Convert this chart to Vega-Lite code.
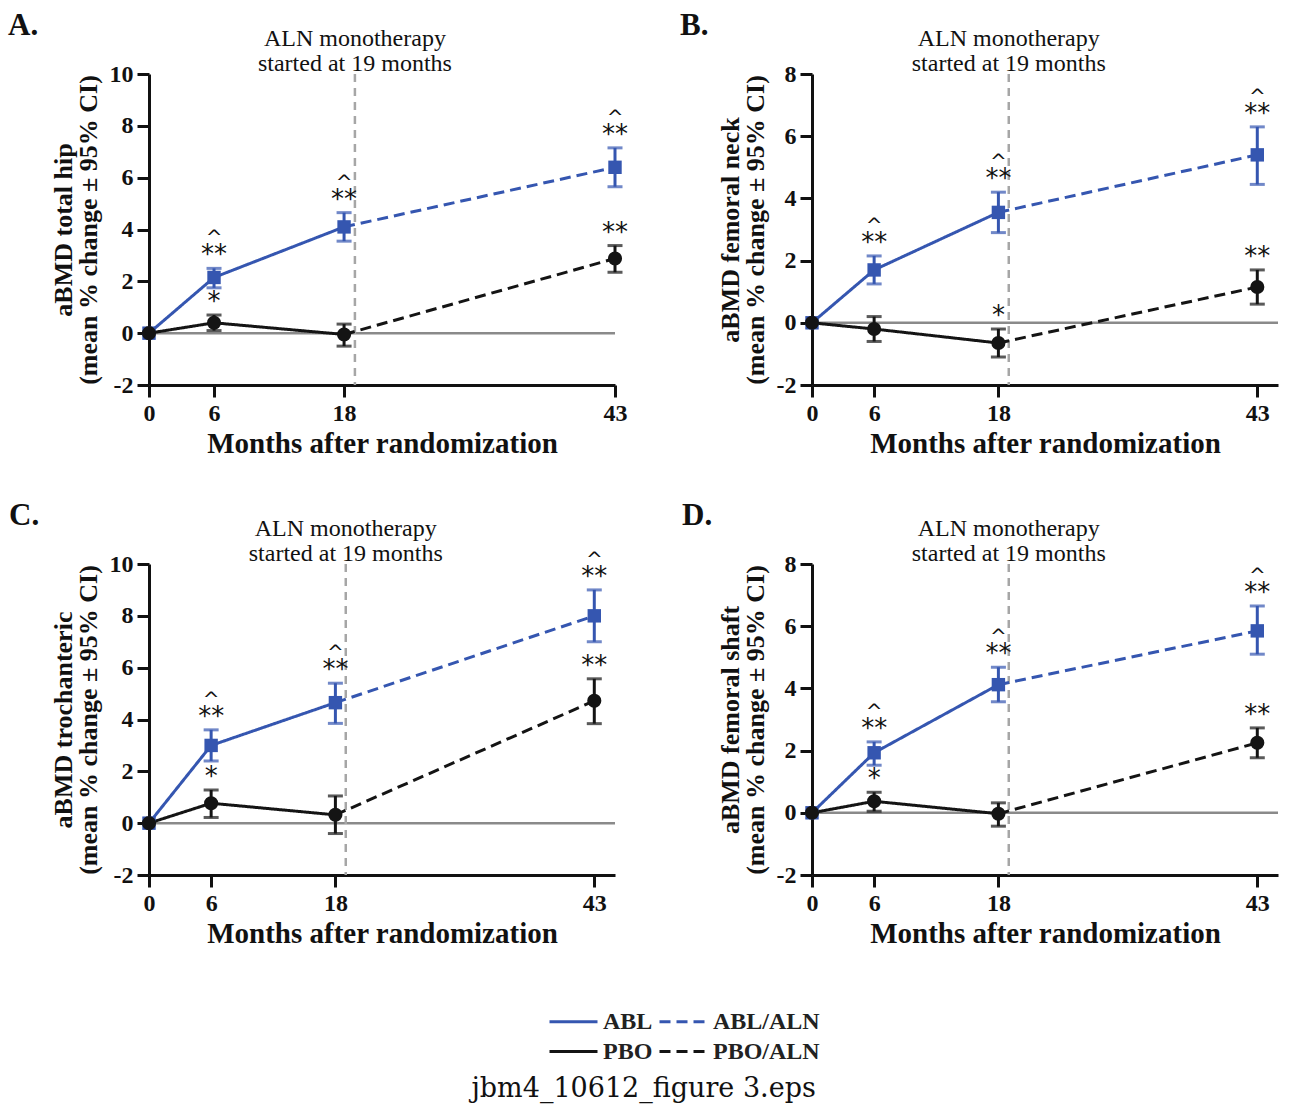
{
  "$schema": "https://vega.github.io/schema/vega-lite/v6.json",
  "padding": {"left": 8, "top": 10, "right": 5, "bottom": 8},
  "background": "white",
  "datasets": {
    "pts": [
      {"panel": "A", "group": "ABL", "month": 0, "mean": 0, "lo": 0, "hi": 0, "stars": "", "caret": ""},
      {"panel": "A", "group": "ABL", "month": 6, "mean": 2.15, "lo": 1.75, "hi": 2.5, "stars": "**", "caret": "^"},
      {"panel": "A", "group": "ABL", "month": 18, "mean": 4.1, "lo": 3.55, "hi": 4.65, "stars": "**", "caret": "^"},
      {"panel": "A", "group": "ABL", "month": 43, "mean": 6.4, "lo": 5.65, "hi": 7.15, "stars": "**", "caret": "^"},
      {"panel": "A", "group": "PBO", "month": 0, "mean": 0, "lo": 0, "hi": 0, "stars": "", "caret": ""},
      {"panel": "A", "group": "PBO", "month": 6, "mean": 0.4, "lo": 0.1, "hi": 0.7, "stars": "*", "caret": ""},
      {"panel": "A", "group": "PBO", "month": 18, "mean": -0.05, "lo": -0.5, "hi": 0.35, "stars": "", "caret": ""},
      {"panel": "A", "group": "PBO", "month": 43, "mean": 2.88, "lo": 2.35, "hi": 3.38, "stars": "**", "caret": ""},
      {"panel": "B", "group": "ABL", "month": 0, "mean": 0, "lo": 0, "hi": 0, "stars": "", "caret": ""},
      {"panel": "B", "group": "ABL", "month": 6, "mean": 1.7, "lo": 1.25, "hi": 2.15, "stars": "**", "caret": "^"},
      {"panel": "B", "group": "ABL", "month": 18, "mean": 3.55, "lo": 2.9, "hi": 4.2, "stars": "**", "caret": "^"},
      {"panel": "B", "group": "ABL", "month": 43, "mean": 5.4, "lo": 4.45, "hi": 6.3, "stars": "**", "caret": "^"},
      {"panel": "B", "group": "PBO", "month": 0, "mean": 0, "lo": 0, "hi": 0, "stars": "", "caret": ""},
      {"panel": "B", "group": "PBO", "month": 6, "mean": -0.2, "lo": -0.6, "hi": 0.2, "stars": "", "caret": ""},
      {"panel": "B", "group": "PBO", "month": 18, "mean": -0.65, "lo": -1.1, "hi": -0.2, "stars": "*", "caret": ""},
      {"panel": "B", "group": "PBO", "month": 43, "mean": 1.15, "lo": 0.6, "hi": 1.7, "stars": "**", "caret": ""},
      {"panel": "C", "group": "ABL", "month": 0, "mean": 0, "lo": 0, "hi": 0, "stars": "", "caret": ""},
      {"panel": "C", "group": "ABL", "month": 6, "mean": 3.0, "lo": 2.4, "hi": 3.6, "stars": "**", "caret": "^"},
      {"panel": "C", "group": "ABL", "month": 18, "mean": 4.65, "lo": 3.85, "hi": 5.4, "stars": "**", "caret": "^"},
      {"panel": "C", "group": "ABL", "month": 43, "mean": 8.0, "lo": 7.0, "hi": 9.0, "stars": "**", "caret": "^"},
      {"panel": "C", "group": "PBO", "month": 0, "mean": 0, "lo": 0, "hi": 0, "stars": "", "caret": ""},
      {"panel": "C", "group": "PBO", "month": 6, "mean": 0.77, "lo": 0.22, "hi": 1.28, "stars": "*", "caret": ""},
      {"panel": "C", "group": "PBO", "month": 18, "mean": 0.32, "lo": -0.4, "hi": 1.05, "stars": "", "caret": ""},
      {"panel": "C", "group": "PBO", "month": 43, "mean": 4.72, "lo": 3.84, "hi": 5.57, "stars": "**", "caret": ""},
      {"panel": "D", "group": "ABL", "month": 0, "mean": 0, "lo": 0, "hi": 0, "stars": "", "caret": ""},
      {"panel": "D", "group": "ABL", "month": 6, "mean": 1.93, "lo": 1.53, "hi": 2.28, "stars": "**", "caret": "^"},
      {"panel": "D", "group": "ABL", "month": 18, "mean": 4.12, "lo": 3.57, "hi": 4.68, "stars": "**", "caret": "^"},
      {"panel": "D", "group": "ABL", "month": 43, "mean": 5.85, "lo": 5.1, "hi": 6.65, "stars": "**", "caret": "^"},
      {"panel": "D", "group": "PBO", "month": 0, "mean": 0, "lo": 0, "hi": 0, "stars": "", "caret": ""},
      {"panel": "D", "group": "PBO", "month": 6, "mean": 0.37, "lo": 0.05, "hi": 0.66, "stars": "*", "caret": ""},
      {"panel": "D", "group": "PBO", "month": 18, "mean": -0.03, "lo": -0.43, "hi": 0.32, "stars": "", "caret": ""},
      {"panel": "D", "group": "PBO", "month": 43, "mean": 2.25, "lo": 1.77, "hi": 2.73, "stars": "**", "caret": ""}
    ],
    "lines": [
      {"panel": "A", "series": "ABL", "month": 0, "mean": 0},
      {"panel": "A", "series": "ABL", "month": 6, "mean": 2.15},
      {"panel": "A", "series": "ABL", "month": 18, "mean": 4.1},
      {"panel": "A", "series": "ABL/ALN", "month": 18, "mean": 4.1},
      {"panel": "A", "series": "ABL/ALN", "month": 43, "mean": 6.4},
      {"panel": "A", "series": "PBO", "month": 0, "mean": 0},
      {"panel": "A", "series": "PBO", "month": 6, "mean": 0.4},
      {"panel": "A", "series": "PBO", "month": 18, "mean": -0.05},
      {"panel": "A", "series": "PBO/ALN", "month": 18, "mean": -0.05},
      {"panel": "A", "series": "PBO/ALN", "month": 43, "mean": 2.88},
      {"panel": "B", "series": "ABL", "month": 0, "mean": 0},
      {"panel": "B", "series": "ABL", "month": 6, "mean": 1.7},
      {"panel": "B", "series": "ABL", "month": 18, "mean": 3.55},
      {"panel": "B", "series": "ABL/ALN", "month": 18, "mean": 3.55},
      {"panel": "B", "series": "ABL/ALN", "month": 43, "mean": 5.4},
      {"panel": "B", "series": "PBO", "month": 0, "mean": 0},
      {"panel": "B", "series": "PBO", "month": 6, "mean": -0.2},
      {"panel": "B", "series": "PBO", "month": 18, "mean": -0.65},
      {"panel": "B", "series": "PBO/ALN", "month": 18, "mean": -0.65},
      {"panel": "B", "series": "PBO/ALN", "month": 43, "mean": 1.15},
      {"panel": "C", "series": "ABL", "month": 0, "mean": 0},
      {"panel": "C", "series": "ABL", "month": 6, "mean": 3.0},
      {"panel": "C", "series": "ABL", "month": 18, "mean": 4.65},
      {"panel": "C", "series": "ABL/ALN", "month": 18, "mean": 4.65},
      {"panel": "C", "series": "ABL/ALN", "month": 43, "mean": 8.0},
      {"panel": "C", "series": "PBO", "month": 0, "mean": 0},
      {"panel": "C", "series": "PBO", "month": 6, "mean": 0.77},
      {"panel": "C", "series": "PBO", "month": 18, "mean": 0.32},
      {"panel": "C", "series": "PBO/ALN", "month": 18, "mean": 0.32},
      {"panel": "C", "series": "PBO/ALN", "month": 43, "mean": 4.72},
      {"panel": "D", "series": "ABL", "month": 0, "mean": 0},
      {"panel": "D", "series": "ABL", "month": 6, "mean": 1.93},
      {"panel": "D", "series": "ABL", "month": 18, "mean": 4.12},
      {"panel": "D", "series": "ABL/ALN", "month": 18, "mean": 4.12},
      {"panel": "D", "series": "ABL/ALN", "month": 43, "mean": 5.85},
      {"panel": "D", "series": "PBO", "month": 0, "mean": 0},
      {"panel": "D", "series": "PBO", "month": 6, "mean": 0.37},
      {"panel": "D", "series": "PBO", "month": 18, "mean": -0.03},
      {"panel": "D", "series": "PBO/ALN", "month": 18, "mean": -0.03},
      {"panel": "D", "series": "PBO/ALN", "month": 43, "mean": 2.25}
    ]
  },
  "title": {"text": "jbm4_10612_figure 3.eps", "orient": "bottom", "anchor": "middle", "font": "DejaVu Serif", "fontSize": 27, "fontWeight": "normal", "color": "#111111", "offset": 12},
  "columns": 2,
  "spacing": {"column": 52, "row": 42},
  "resolve": {"scale": {"color": "shared", "strokeDash": "shared"}, "legend": {"color": "shared", "strokeDash": "shared"}},
  "concat": [
    {
      "width": 466, "height": 311,
      "title": {"text": "A.", "anchor": "start", "frame": "group", "dx": -141, "offset": 0, "dy": 39, "baseline": "alphabetic", "font": "Liberation Serif", "fontWeight": "bold", "fontSize": 31, "color": "#111111"},
      "layer": [
        {"data": {"values": [{"ref": "zero"}]}, "mark": {"type": "rule", "color": "#8a8a8a", "strokeWidth": 2.5}, "encoding": {"y": {"datum": 0}}},
        {"data": {"values": [{"ref": "aln"}]}, "mark": {"type": "rule", "color": "#a6a6a6", "strokeWidth": 2.5, "strokeDash": [8, 6]}, "encoding": {"x": {"datum": 19}}},
        {"data": {"name": "lines"}, "transform": [{"filter": "datum.panel === 'A'"}],
         "mark": {"type": "line", "strokeWidth": 3},
         "encoding": {
           "x": {"field": "month", "type": "quantitative", "scale": {"domain": [0, 43], "nice": false, "zero": false}, "axis": {"values": [0, 6, 18, 43]}, "title": "Months after randomization"},
           "y": {"field": "mean", "type": "quantitative", "scale": {"domain": [-2, 10], "nice": false}, "axis": {"values": [-2, 0, 2, 4, 6, 8, 10], "labelExpr": "replace(datum.label, '−', '-')"}, "title": ["aBMD total hip", "(mean % change ± 95% CI)"]},
           "color": {"field": "series", "type": "nominal", "scale": {"domain": ["ABL", "ABL/ALN", "PBO", "PBO/ALN"], "range": ["#3556b0", "#3556b0", "#141414", "#141414"]},
             "legend": {"title": null, "orient": "none", "direction": "horizontal", "legendX": 399, "legendY": 934, "columns": 2, "symbolType": "M-1,0H3", "symbolSize": 576, "symbolStrokeWidth": 3, "labelFont": "Liberation Serif", "labelFontWeight": "bold", "labelFontSize": 24, "labelColor": "#222222", "columnPadding": 0, "rowPadding": 4, "labelOffset": 28}},
           "strokeDash": {"field": "series", "type": "nominal", "scale": {"domain": ["ABL", "ABL/ALN", "PBO", "PBO/ALN"], "range": [[1, 0], [11, 6], [1, 0], [11, 6]]},
             "legend": {"title": null, "orient": "none", "direction": "horizontal", "legendX": 399, "legendY": 934, "columns": 2, "symbolType": "M-1,0H3", "symbolSize": 576, "symbolStrokeWidth": 3, "labelFont": "Liberation Serif", "labelFontWeight": "bold", "labelFontSize": 24, "labelColor": "#222222", "columnPadding": 0, "rowPadding": 4, "labelOffset": 28}}
         }},
        {"data": {"name": "pts"}, "transform": [{"filter": "datum.panel === 'A' && datum.group === 'ABL' && datum.month > 0"}],
         "mark": {"type": "errorbar", "color": "#3556b0", "thickness": 3, "size": 15, "ticks": true},
         "encoding": {"x": {"field": "month", "type": "quantitative", "title": "Months after randomization"}, "y": {"field": "lo", "type": "quantitative", "title": ["aBMD total hip", "(mean % change ± 95% CI)"]}, "y2": {"field": "hi"}}},
        {"data": {"name": "pts"}, "transform": [{"filter": "datum.panel === 'A' && datum.group === 'ABL'"}],
         "mark": {"type": "square", "color": "#3556b0", "size": 180, "opacity": 1},
         "encoding": {"x": {"field": "month", "type": "quantitative"}, "y": {"field": "mean", "type": "quantitative"}}},
        {"data": {"name": "pts"}, "transform": [{"filter": "datum.panel === 'A' && datum.group === 'PBO' && datum.month > 0"}],
         "mark": {"type": "errorbar", "color": "#141414", "thickness": 3, "size": 15, "ticks": true},
         "encoding": {"x": {"field": "month", "type": "quantitative", "title": "Months after randomization"}, "y": {"field": "lo", "type": "quantitative", "title": ["aBMD total hip", "(mean % change ± 95% CI)"]}, "y2": {"field": "hi"}}},
        {"data": {"name": "pts"}, "transform": [{"filter": "datum.panel === 'A' && datum.group === 'PBO'"}],
         "mark": {"type": "circle", "color": "#141414", "size": 200, "opacity": 1},
         "encoding": {"x": {"field": "month", "type": "quantitative"}, "y": {"field": "mean", "type": "quantitative"}}},
        {"data": {"name": "pts"}, "transform": [{"filter": "datum.panel === 'A'"}],
         "mark": {"type": "text", "font": "DejaVu Sans", "fontSize": 26, "baseline": "alphabetic", "dy": -5, "color": "#111111"},
         "encoding": {"x": {"field": "month", "type": "quantitative"}, "y": {"field": "hi", "type": "quantitative"}, "text": {"field": "stars"}}},
        {"data": {"name": "pts"}, "transform": [{"filter": "datum.panel === 'A'"}],
         "mark": {"type": "text", "font": "DejaVu Sans", "fontSize": 20, "baseline": "alphabetic", "dy": -24, "color": "#111111"},
         "encoding": {"x": {"field": "month", "type": "quantitative"}, "y": {"field": "hi", "type": "quantitative"}, "text": {"field": "caret"}}},
        {"data": {"values": [{"ref": "note"}]},
         "mark": {"type": "text", "text": ["ALN monotherapy", "started at 19 months"], "font": "Liberation Serif", "fontSize": 24, "lineHeight": 25, "baseline": "alphabetic", "align": "center", "color": "#111111", "dy": -28},
         "encoding": {"x": {"datum": 19}, "y": {"datum": 10}}}
      ]
    },
    {
      "width": 466, "height": 311,
      "title": {"text": "B.", "anchor": "start", "frame": "group", "dx": -132, "offset": 0, "dy": 39, "baseline": "alphabetic", "font": "Liberation Serif", "fontWeight": "bold", "fontSize": 31, "color": "#111111"},
      "layer": [
        {"data": {"values": [{"ref": "zero"}]}, "mark": {"type": "rule", "color": "#8a8a8a", "strokeWidth": 2.5}, "encoding": {"y": {"datum": 0}}},
        {"data": {"values": [{"ref": "aln"}]}, "mark": {"type": "rule", "color": "#a6a6a6", "strokeWidth": 2.5, "strokeDash": [8, 6]}, "encoding": {"x": {"datum": 19}}},
        {"data": {"name": "lines"}, "transform": [{"filter": "datum.panel === 'B'"}],
         "mark": {"type": "line", "strokeWidth": 3},
         "encoding": {
           "x": {"field": "month", "type": "quantitative", "scale": {"domain": [0, 45], "nice": false, "zero": false}, "axis": {"values": [0, 6, 18, 43]}, "title": "Months after randomization"},
           "y": {"field": "mean", "type": "quantitative", "scale": {"domain": [-2, 8], "nice": false}, "axis": {"values": [-2, 0, 2, 4, 6, 8], "labelExpr": "replace(datum.label, '−', '-')"}, "title": ["aBMD femoral neck", "(mean % change ± 95% CI)"]},
           "color": {"field": "series", "type": "nominal", "scale": {"domain": ["ABL", "ABL/ALN", "PBO", "PBO/ALN"], "range": ["#3556b0", "#3556b0", "#141414", "#141414"]}},
           "strokeDash": {"field": "series", "type": "nominal", "scale": {"domain": ["ABL", "ABL/ALN", "PBO", "PBO/ALN"], "range": [[1, 0], [11, 6], [1, 0], [11, 6]]}}
         }},
        {"data": {"name": "pts"}, "transform": [{"filter": "datum.panel === 'B' && datum.group === 'ABL' && datum.month > 0"}],
         "mark": {"type": "errorbar", "color": "#3556b0", "thickness": 3, "size": 15, "ticks": true},
         "encoding": {"x": {"field": "month", "type": "quantitative", "title": "Months after randomization"}, "y": {"field": "lo", "type": "quantitative", "title": ["aBMD femoral neck", "(mean % change ± 95% CI)"]}, "y2": {"field": "hi"}}},
        {"data": {"name": "pts"}, "transform": [{"filter": "datum.panel === 'B' && datum.group === 'ABL'"}],
         "mark": {"type": "square", "color": "#3556b0", "size": 180, "opacity": 1},
         "encoding": {"x": {"field": "month", "type": "quantitative"}, "y": {"field": "mean", "type": "quantitative"}}},
        {"data": {"name": "pts"}, "transform": [{"filter": "datum.panel === 'B' && datum.group === 'PBO' && datum.month > 0"}],
         "mark": {"type": "errorbar", "color": "#141414", "thickness": 3, "size": 15, "ticks": true},
         "encoding": {"x": {"field": "month", "type": "quantitative", "title": "Months after randomization"}, "y": {"field": "lo", "type": "quantitative", "title": ["aBMD femoral neck", "(mean % change ± 95% CI)"]}, "y2": {"field": "hi"}}},
        {"data": {"name": "pts"}, "transform": [{"filter": "datum.panel === 'B' && datum.group === 'PBO'"}],
         "mark": {"type": "circle", "color": "#141414", "size": 200, "opacity": 1},
         "encoding": {"x": {"field": "month", "type": "quantitative"}, "y": {"field": "mean", "type": "quantitative"}}},
        {"data": {"name": "pts"}, "transform": [{"filter": "datum.panel === 'B'"}],
         "mark": {"type": "text", "font": "DejaVu Sans", "fontSize": 26, "baseline": "alphabetic", "dy": -5, "color": "#111111"},
         "encoding": {"x": {"field": "month", "type": "quantitative"}, "y": {"field": "hi", "type": "quantitative"}, "text": {"field": "stars"}}},
        {"data": {"name": "pts"}, "transform": [{"filter": "datum.panel === 'B'"}],
         "mark": {"type": "text", "font": "DejaVu Sans", "fontSize": 20, "baseline": "alphabetic", "dy": -24, "color": "#111111"},
         "encoding": {"x": {"field": "month", "type": "quantitative"}, "y": {"field": "hi", "type": "quantitative"}, "text": {"field": "caret"}}},
        {"data": {"values": [{"ref": "note"}]},
         "mark": {"type": "text", "text": ["ALN monotherapy", "started at 19 months"], "font": "Liberation Serif", "fontSize": 24, "lineHeight": 25, "baseline": "alphabetic", "align": "center", "color": "#111111", "dy": -28},
         "encoding": {"x": {"datum": 19}, "y": {"datum": 8}}}
      ]
    },
    {
      "width": 466, "height": 311,
      "title": {"text": "C.", "anchor": "start", "frame": "group", "dx": -140, "offset": 0, "dy": 39, "baseline": "alphabetic", "font": "Liberation Serif", "fontWeight": "bold", "fontSize": 31, "color": "#111111"},
      "layer": [
        {"data": {"values": [{"ref": "zero"}]}, "mark": {"type": "rule", "color": "#8a8a8a", "strokeWidth": 2.5}, "encoding": {"y": {"datum": 0}}},
        {"data": {"values": [{"ref": "aln"}]}, "mark": {"type": "rule", "color": "#a6a6a6", "strokeWidth": 2.5, "strokeDash": [8, 6]}, "encoding": {"x": {"datum": 19}}},
        {"data": {"name": "lines"}, "transform": [{"filter": "datum.panel === 'C'"}],
         "mark": {"type": "line", "strokeWidth": 3},
         "encoding": {
           "x": {"field": "month", "type": "quantitative", "scale": {"domain": [0, 45], "nice": false, "zero": false}, "axis": {"values": [0, 6, 18, 43]}, "title": "Months after randomization"},
           "y": {"field": "mean", "type": "quantitative", "scale": {"domain": [-2, 10], "nice": false}, "axis": {"values": [-2, 0, 2, 4, 6, 8, 10], "labelExpr": "replace(datum.label, '−', '-')"}, "title": ["aBMD trochanteric", "(mean % change ± 95% CI)"]},
           "color": {"field": "series", "type": "nominal", "scale": {"domain": ["ABL", "ABL/ALN", "PBO", "PBO/ALN"], "range": ["#3556b0", "#3556b0", "#141414", "#141414"]}},
           "strokeDash": {"field": "series", "type": "nominal", "scale": {"domain": ["ABL", "ABL/ALN", "PBO", "PBO/ALN"], "range": [[1, 0], [11, 6], [1, 0], [11, 6]]}}
         }},
        {"data": {"name": "pts"}, "transform": [{"filter": "datum.panel === 'C' && datum.group === 'ABL' && datum.month > 0"}],
         "mark": {"type": "errorbar", "color": "#3556b0", "thickness": 3, "size": 15, "ticks": true},
         "encoding": {"x": {"field": "month", "type": "quantitative", "title": "Months after randomization"}, "y": {"field": "lo", "type": "quantitative", "title": ["aBMD trochanteric", "(mean % change ± 95% CI)"]}, "y2": {"field": "hi"}}},
        {"data": {"name": "pts"}, "transform": [{"filter": "datum.panel === 'C' && datum.group === 'ABL'"}],
         "mark": {"type": "square", "color": "#3556b0", "size": 180, "opacity": 1},
         "encoding": {"x": {"field": "month", "type": "quantitative"}, "y": {"field": "mean", "type": "quantitative"}}},
        {"data": {"name": "pts"}, "transform": [{"filter": "datum.panel === 'C' && datum.group === 'PBO' && datum.month > 0"}],
         "mark": {"type": "errorbar", "color": "#141414", "thickness": 3, "size": 15, "ticks": true},
         "encoding": {"x": {"field": "month", "type": "quantitative", "title": "Months after randomization"}, "y": {"field": "lo", "type": "quantitative", "title": ["aBMD trochanteric", "(mean % change ± 95% CI)"]}, "y2": {"field": "hi"}}},
        {"data": {"name": "pts"}, "transform": [{"filter": "datum.panel === 'C' && datum.group === 'PBO'"}],
         "mark": {"type": "circle", "color": "#141414", "size": 200, "opacity": 1},
         "encoding": {"x": {"field": "month", "type": "quantitative"}, "y": {"field": "mean", "type": "quantitative"}}},
        {"data": {"name": "pts"}, "transform": [{"filter": "datum.panel === 'C'"}],
         "mark": {"type": "text", "font": "DejaVu Sans", "fontSize": 26, "baseline": "alphabetic", "dy": -5, "color": "#111111"},
         "encoding": {"x": {"field": "month", "type": "quantitative"}, "y": {"field": "hi", "type": "quantitative"}, "text": {"field": "stars"}}},
        {"data": {"name": "pts"}, "transform": [{"filter": "datum.panel === 'C'"}],
         "mark": {"type": "text", "font": "DejaVu Sans", "fontSize": 20, "baseline": "alphabetic", "dy": -24, "color": "#111111"},
         "encoding": {"x": {"field": "month", "type": "quantitative"}, "y": {"field": "hi", "type": "quantitative"}, "text": {"field": "caret"}}},
        {"data": {"values": [{"ref": "note"}]},
         "mark": {"type": "text", "text": ["ALN monotherapy", "started at 19 months"], "font": "Liberation Serif", "fontSize": 24, "lineHeight": 25, "baseline": "alphabetic", "align": "center", "color": "#111111", "dy": -28},
         "encoding": {"x": {"datum": 19}, "y": {"datum": 10}}}
      ]
    },
    {
      "width": 466, "height": 311,
      "title": {"text": "D.", "anchor": "start", "frame": "group", "dx": -130, "offset": 0, "dy": 39, "baseline": "alphabetic", "font": "Liberation Serif", "fontWeight": "bold", "fontSize": 31, "color": "#111111"},
      "layer": [
        {"data": {"values": [{"ref": "zero"}]}, "mark": {"type": "rule", "color": "#8a8a8a", "strokeWidth": 2.5}, "encoding": {"y": {"datum": 0}}},
        {"data": {"values": [{"ref": "aln"}]}, "mark": {"type": "rule", "color": "#a6a6a6", "strokeWidth": 2.5, "strokeDash": [8, 6]}, "encoding": {"x": {"datum": 19}}},
        {"data": {"name": "lines"}, "transform": [{"filter": "datum.panel === 'D'"}],
         "mark": {"type": "line", "strokeWidth": 3},
         "encoding": {
           "x": {"field": "month", "type": "quantitative", "scale": {"domain": [0, 45], "nice": false, "zero": false}, "axis": {"values": [0, 6, 18, 43]}, "title": "Months after randomization"},
           "y": {"field": "mean", "type": "quantitative", "scale": {"domain": [-2, 8], "nice": false}, "axis": {"values": [-2, 0, 2, 4, 6, 8], "labelExpr": "replace(datum.label, '−', '-')"}, "title": ["aBMD femoral shaft", "(mean % change ± 95% CI)"]},
           "color": {"field": "series", "type": "nominal", "scale": {"domain": ["ABL", "ABL/ALN", "PBO", "PBO/ALN"], "range": ["#3556b0", "#3556b0", "#141414", "#141414"]}},
           "strokeDash": {"field": "series", "type": "nominal", "scale": {"domain": ["ABL", "ABL/ALN", "PBO", "PBO/ALN"], "range": [[1, 0], [11, 6], [1, 0], [11, 6]]}}
         }},
        {"data": {"name": "pts"}, "transform": [{"filter": "datum.panel === 'D' && datum.group === 'ABL' && datum.month > 0"}],
         "mark": {"type": "errorbar", "color": "#3556b0", "thickness": 3, "size": 15, "ticks": true},
         "encoding": {"x": {"field": "month", "type": "quantitative", "title": "Months after randomization"}, "y": {"field": "lo", "type": "quantitative", "title": ["aBMD femoral shaft", "(mean % change ± 95% CI)"]}, "y2": {"field": "hi"}}},
        {"data": {"name": "pts"}, "transform": [{"filter": "datum.panel === 'D' && datum.group === 'ABL'"}],
         "mark": {"type": "square", "color": "#3556b0", "size": 180, "opacity": 1},
         "encoding": {"x": {"field": "month", "type": "quantitative"}, "y": {"field": "mean", "type": "quantitative"}}},
        {"data": {"name": "pts"}, "transform": [{"filter": "datum.panel === 'D' && datum.group === 'PBO' && datum.month > 0"}],
         "mark": {"type": "errorbar", "color": "#141414", "thickness": 3, "size": 15, "ticks": true},
         "encoding": {"x": {"field": "month", "type": "quantitative", "title": "Months after randomization"}, "y": {"field": "lo", "type": "quantitative", "title": ["aBMD femoral shaft", "(mean % change ± 95% CI)"]}, "y2": {"field": "hi"}}},
        {"data": {"name": "pts"}, "transform": [{"filter": "datum.panel === 'D' && datum.group === 'PBO'"}],
         "mark": {"type": "circle", "color": "#141414", "size": 200, "opacity": 1},
         "encoding": {"x": {"field": "month", "type": "quantitative"}, "y": {"field": "mean", "type": "quantitative"}}},
        {"data": {"name": "pts"}, "transform": [{"filter": "datum.panel === 'D'"}],
         "mark": {"type": "text", "font": "DejaVu Sans", "fontSize": 26, "baseline": "alphabetic", "dy": -5, "color": "#111111"},
         "encoding": {"x": {"field": "month", "type": "quantitative"}, "y": {"field": "hi", "type": "quantitative"}, "text": {"field": "stars"}}},
        {"data": {"name": "pts"}, "transform": [{"filter": "datum.panel === 'D'"}],
         "mark": {"type": "text", "font": "DejaVu Sans", "fontSize": 20, "baseline": "alphabetic", "dy": -24, "color": "#111111"},
         "encoding": {"x": {"field": "month", "type": "quantitative"}, "y": {"field": "hi", "type": "quantitative"}, "text": {"field": "caret"}}},
        {"data": {"values": [{"ref": "note"}]},
         "mark": {"type": "text", "text": ["ALN monotherapy", "started at 19 months"], "font": "Liberation Serif", "fontSize": 24, "lineHeight": 25, "baseline": "alphabetic", "align": "center", "color": "#111111", "dy": -28},
         "encoding": {"x": {"datum": 19}, "y": {"datum": 8}}}
      ]
    }
  ],
  "config": {
    "view": {"stroke": null},
    "axis": {"domainColor": "#111111", "domainWidth": 3, "tickColor": "#111111", "tickWidth": 3, "tickSize": 12, "grid": false, "labelFlush": false, "labelFont": "Liberation Serif", "labelFontWeight": "bold", "labelFontSize": 24, "labelColor": "#111111", "labelPadding": 4, "titleFont": "Liberation Serif", "titleFontWeight": "bold", "titleFontSize": 28, "titleColor": "#111111"},
    "axisX": {"titlePadding": 4, "titleFontSize": 29},
    "axisY": {"titleFontSize": 26, "titlePadding": 8, "titleLineHeight": 25}
  }
}
